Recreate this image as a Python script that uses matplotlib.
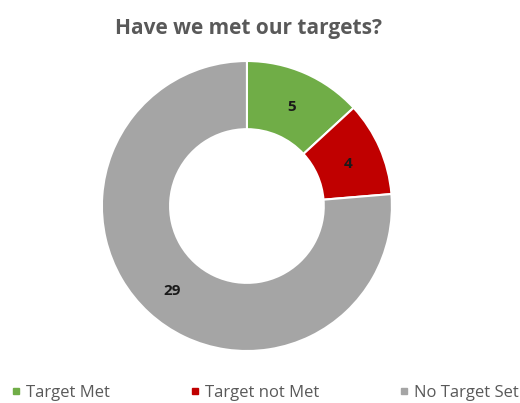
import matplotlib.pyplot as plt
import numpy as np

labels = ["Target Met", "Target not Met", "No Target Set"]
values = [5, 4, 29]
colors = ["#70ad47", "#c00000", "#a5a5a5"]

plt.rcParams["font.family"] = ["Open Sans", "DejaVu Sans"]

fig = plt.figure(figsize=(5.2, 4.03), dpi=100)
ax = fig.add_axes([0.196, 0.129, 0.5577, 0.7196])

hole = 0.53
wedges, _ = ax.pie(
    values,
    colors=colors,
    startangle=90,
    counterclock=False,
    radius=1,
    wedgeprops=dict(width=1 - hole, edgecolor="white", linewidth=1.5),
)
ax.set_xlim(-1, 1)
ax.set_ylim(-1, 1)
ax.set_aspect("equal")

# value labels in the middle of the ring
r_mid = (1 + hole) / 2
for w, v in zip(wedges, values):
    ang = np.deg2rad((w.theta1 + w.theta2) / 2)
    ax.text(r_mid * np.cos(ang), r_mid * np.sin(ang) - 0.02, str(v),
            ha="center", va="center", fontsize=11, fontweight="bold",
            color="#1a1a1a")

fig.text(0.477, 0.93, "Have we met our targets?", ha="center", va="center",
         fontsize=15, fontweight="bold", color="#595959")

handles = [plt.Line2D([], [], marker="s", linestyle="", markersize=5,
                      markerfacecolor=c, markeredgecolor=c) for c in colors]
leg = fig.legend(handles, labels, loc="center", bbox_to_anchor=(0.507, 0.025),
                 ncol=3, frameon=False, fontsize=12, columnspacing=4.6,
                 handletextpad=0.1, handlelength=1.0)
for t in leg.get_texts():
    t.set_color("#595959")

fig.savefig("out.png", dpi=100)
